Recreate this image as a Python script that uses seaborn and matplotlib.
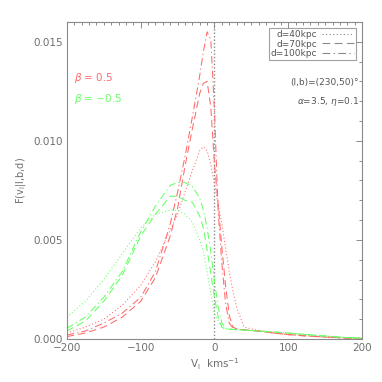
import matplotlib
matplotlib.use("Agg")
import matplotlib.pyplot as plt
from matplotlib.lines import Line2D
from matplotlib.ticker import MultipleLocator, FormatStrFormatter
import seaborn as sns
import pandas as pd

sns.set_style("white")
plt.rcParams["font.family"] = ["DejaVu Sans"]

# velocity grid (km/s)
v_l = [-200, -175, -150, -125, -100, -80, -60, -50, -40, -30, -20, -15, -10, -5,
       0, 5, 10, 15, 20, 25, 30, 40, 60, 80, 100, 125, 150, 175, 200]

# beta = 0.5 (red)
red_d40 = [0.0003, 0.0006, 0.0010, 0.0017, 0.0027, 0.0039, 0.0055, 0.0063, 0.0074, 0.0085,
           0.0095, 0.0097, 0.0095, 0.0088, 0.0078, 0.0068, 0.0058, 0.0046, 0.0034, 0.0024,
           0.0016, 0.0006, 0.00042, 0.00033, 0.00025, 0.00017, 0.0001, 0.00005, 0.00003]
red_d70 = [0.00012, 0.0003, 0.0006, 0.0011, 0.0019, 0.0031, 0.0052, 0.0066, 0.0087, 0.0106,
           0.0124, 0.0129, 0.0130, 0.0117, 0.0088, 0.0068, 0.0046, 0.0027, 0.0012, 0.0006,
           0.0005, 0.00046, 0.0004, 0.0003, 0.00022, 0.00015, 0.0001, 0.00005, 0.00002]
red_d100 = [0.0002, 0.0004, 0.0008, 0.0013, 0.0021, 0.0034, 0.0058, 0.0074, 0.0092, 0.0112,
            0.0133, 0.0145, 0.0155, 0.0151, 0.0115, 0.0064, 0.0038, 0.0018, 0.0008, 0.00055,
            0.0005, 0.00046, 0.0004, 0.0003, 0.00022, 0.00015, 0.0001, 0.00005, 0.00002]

# beta = -0.5 (green)
grn_d40 = [0.0011, 0.0019, 0.0030, 0.0043, 0.0056, 0.0063, 0.0065, 0.0065, 0.0063, 0.0059,
           0.0050, 0.0044, 0.0034, 0.0023, 0.0013, 0.0009, 0.0006, 0.0005, 0.0005, 0.00048,
           0.00047, 0.00045, 0.0004, 0.00035, 0.0003, 0.00022, 0.00015, 0.00008, 0.00004]
grn_d70 = [0.0004, 0.0009, 0.0019, 0.0032, 0.0052, 0.0063, 0.0072, 0.0072, 0.0070, 0.0069,
           0.0062, 0.0056, 0.0045, 0.0033, 0.0021, 0.0011, 0.0006, 0.0005, 0.0005, 0.00048,
           0.00047, 0.00045, 0.0004, 0.00035, 0.0003, 0.00022, 0.00015, 0.00008, 0.00004]
grn_d100 = [0.00054, 0.0011, 0.0021, 0.0034, 0.0054, 0.0067, 0.00775, 0.0079, 0.0079, 0.0077,
            0.0071, 0.0065, 0.0056, 0.0044, 0.0029, 0.0016, 0.0008, 0.00055, 0.0005, 0.00048,
            0.00047, 0.00045, 0.0004, 0.00035, 0.0003, 0.00022, 0.00015, 0.00008, 0.00004]

distances = ["d=40kpc", "d=70kpc", "d=100kpc"]
series = {
    ("0.5", "d=40kpc"): red_d40, ("0.5", "d=70kpc"): red_d70, ("0.5", "d=100kpc"): red_d100,
    ("-0.5", "d=40kpc"): grn_d40, ("-0.5", "d=70kpc"): grn_d70, ("-0.5", "d=100kpc"): grn_d100,
}

rows = []
for (beta, d), vals in series.items():
    for v, f in zip(v_l, vals):
        rows.append({"v": v, "F": f, "beta": beta, "d": d})
df = pd.DataFrame(rows)

RED = "#ff6a6a"
GREEN = "#66ff66"
GREY = "#8a8a8a"
dash_map = {"d=40kpc": (1, 2.2), "d=70kpc": (7, 4), "d=100kpc": (7, 3, 1.2, 3)}

fig = plt.figure(figsize=(3.82, 3.82), dpi=100)
ax = fig.add_axes([0.175, 0.1126, 0.773, 0.83])

ax.axvline(0, color=GREY, linestyle=(0, (1, 1.5)), linewidth=1.0)

sns.lineplot(data=df, x="v", y="F", hue="beta", style="d", palette={"0.5": RED, "-0.5": GREEN},
             dashes=dash_map, style_order=distances, estimator=None, sort=False,
             linewidth=0.75, legend=False, ax=ax)

ax.set_xlim(-200, 200)
ax.set_ylim(0, 0.016)
ax.xaxis.set_major_locator(MultipleLocator(100))
ax.xaxis.set_minor_locator(MultipleLocator(10))
ax.yaxis.set_major_locator(MultipleLocator(0.005))
ax.yaxis.set_minor_locator(MultipleLocator(0.001))
ax.yaxis.set_major_formatter(FormatStrFormatter("%.3f"))
ax.tick_params(which="both", direction="in", top=True, right=True, color=GREY,
               labelcolor="#6e6e6e", labelsize=7.5, width=0.7)
ax.tick_params(which="major", length=4.3, pad=3)
ax.tick_params(which="minor", length=2.2)
for s in ax.spines.values():
    s.set_color(GREY)
    s.set_linewidth(0.8)

ax.set_xlabel("V$_{\\rm l}$  kms$^{-1}$", fontsize=7.5, color="#6e6e6e", labelpad=2)
ax.set_ylabel("F(v$_{\\rm l}$|l,b,d)", fontsize=7, color="#6e6e6e", labelpad=4)

handles = [Line2D([], [], color=GREY, linewidth=0.8, dashes=dash_map[d]) for d in distances]
leg = ax.legend(handles, distances, loc="upper right", markerfirst=False, fontsize=6.5,
                frameon=True, fancybox=False, edgecolor=GREY, handlelength=3.5,
                handletextpad=0.6, borderpad=0.2, labelspacing=0.05, borderaxespad=0.7)
leg.get_frame().set_linewidth(0.8)
for t in leg.get_texts():
    t.set_color("#555555")

ax.text(0.025, 0.823, "$\\beta$ = 0.5", transform=ax.transAxes, color=RED, fontsize=7.5,
        va="center")
ax.text(0.025, 0.757, "$\\beta$ = \u22120.5", transform=ax.transAxes, color=GREEN, fontsize=7.5,
        va="center")
ax.text(0.99, 0.81, "(l,b)=(230,50)\u00b0", transform=ax.transAxes, ha="right", va="center",
        color="#555555", fontsize=6.5)
ax.text(0.99, 0.75, "$\\alpha$=3.5, $\\eta$=0.1", transform=ax.transAxes, ha="right",
        va="center", color="#555555", fontsize=6.5)

fig.savefig("out.png", dpi=100)
